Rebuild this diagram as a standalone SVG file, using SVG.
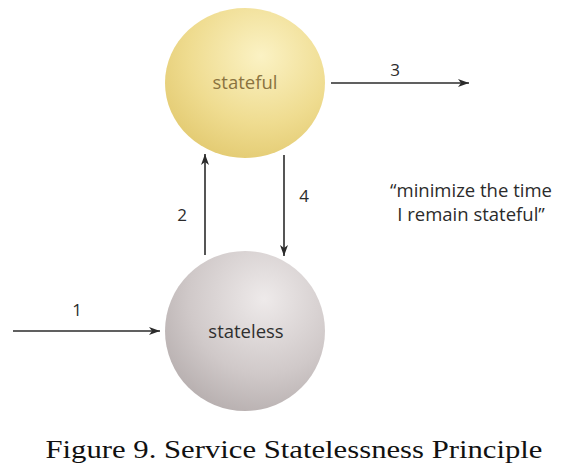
<svg xmlns="http://www.w3.org/2000/svg" width="566" height="471" viewBox="0 0 566 471">
<style>
.lbl{font-family:"Open Sans","Liberation Sans",sans-serif;font-size:17px;fill:#2b2b2b;text-anchor:middle}
.edge{stroke:#2b2b2b;stroke-width:1.6;fill:none;marker-end:url(#ah)}
.quote{font-family:"Open Sans","Liberation Sans",sans-serif;font-size:18.5px;fill:#2b2b2b;text-anchor:middle}
.cap{font-family:"Liberation Serif",serif;font-size:26px;fill:#111;text-anchor:middle}
</style>
<defs>
<marker id="ah" markerWidth="12" markerHeight="10" refX="11" refY="5" orient="auto" markerUnits="userSpaceOnUse">
<path d="M0,1 L11,5 L0,9 L3,5 Z" fill="#2b2b2b"/>
</marker>
<radialGradient id="gy" cx="0.6" cy="0.32" r="0.75">
<stop offset="0" stop-color="#fbf2c4"/>
<stop offset="0.6" stop-color="#efdc90"/>
<stop offset="1" stop-color="#e2c96f"/>
</radialGradient>
<radialGradient id="gg" cx="0.62" cy="0.3" r="0.78">
<stop offset="0" stop-color="#eeeaea"/>
<stop offset="0.6" stop-color="#d0c9c9"/>
<stop offset="1" stop-color="#b4acac"/>
</radialGradient>
</defs>
<rect width="566" height="471" fill="#fff"/>
<g id="stateful">
<ellipse cx="245" cy="83" rx="80" ry="75" fill="url(#gy)"/>
<text x="245" y="89" style="font-family:'Open Sans','Liberation Sans',sans-serif;font-size:18.5px;fill:#8a7340;text-anchor:middle">stateful</text>
</g>
<g id="stateless">
<ellipse cx="245" cy="331" rx="80" ry="80" fill="url(#gg)"/>
<text x="246" y="338" style="font-family:'Open Sans','Liberation Sans',sans-serif;font-size:18.5px;fill:#2f2f2f;text-anchor:middle">stateless</text>
</g>
<g id="connectors">
<line class="edge" x1="13" y1="331" x2="160" y2="331"/>
<line class="edge" x1="205" y1="255" x2="205" y2="154"/>
<line class="edge" x1="284" y1="155" x2="284" y2="256"/>
<line class="edge" x1="331" y1="83" x2="469" y2="83"/>
<text class="lbl" x="77" y="316">1</text>
<text class="lbl" x="182" y="221">2</text>
<text class="lbl" x="395" y="76">3</text>
<text class="lbl" x="304" y="202">4</text>
</g>
<g id="quote">
<text class="quote" x="471" y="197">“minimize the time</text>
<text class="quote" x="471" y="221">I remain stateful”</text>
</g>
<text class="cap" x="294" y="458" textLength="497" lengthAdjust="spacingAndGlyphs">Figure 9. Service Statelessness Principle</text>
</svg>
